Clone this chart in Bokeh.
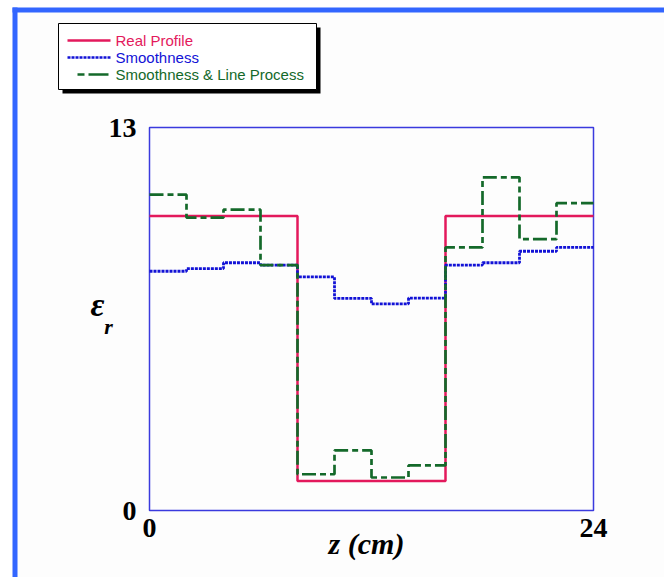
from bokeh.plotting import figure
from bokeh.models import Range1d, FixedTicker, Label, BoxAnnotation
from bokeh.embed import file_html
from bokeh.resources import INLINE

# ---- data ----
x_ticks = [0, 24]
y_ticks = [0, 13]

real_edges = [0, 8, 16, 24]
real_vals = [10, 1, 10]

seg_edges = [0, 2, 4, 6, 8, 10, 12, 14, 16, 18, 20, 22, 24]
smooth_vals = [8.12, 8.21, 8.41, 8.33, 7.93, 7.20, 7.01, 7.21, 8.33, 8.41, 8.80, 8.93]
line_proc_vals = [10.72, 9.94, 10.21, 8.33, 1.23, 2.04, 1.12, 1.53, 8.93, 11.31, 9.21, 10.43]

series_names = ["Real Profile", "Smoothness", "Smoothness & Line Process"]

RED = "#E3195C"
BLUE = "#1212D6"
GREEN = "#14692A"

# ---- layout (canvas pixels) ----
W, H = 664, 577
BOX_L, BOX_R, BOX_T, BOX_B = 149, 593, 127, 510   # where the data box sits on the canvas
SX = (BOX_R - BOX_L) / (x_ticks[-1] - x_ticks[0])
SY = (BOX_B - BOX_T) / (y_ticks[-1] - y_ticks[0])
def dx(px):
    return x_ticks[0] + (px - BOX_L) / SX
def dy(py):
    return y_ticks[0] + (BOX_B - py) / SY

p = figure(width=W, height=H, output_backend="svg", toolbar_location=None,
           x_range=Range1d(dx(0), dx(W)), y_range=Range1d(dy(H), dy(0)),
           min_border=0, min_border_left=0, min_border_right=0,
           min_border_top=0, min_border_bottom=0,
           background_fill_color="#FDFDFD", border_fill_color="#FDFDFD")
p.outline_line_color = None
p.xgrid.visible = False
p.ygrid.visible = False

for ax, t in ((p.xaxis, x_ticks), (p.yaxis, y_ticks)):
    ax.ticker = FixedTicker(ticks=t)
    ax.axis_line_color = None
    ax.major_tick_line_color = None
    ax.minor_tick_line_color = None
    ax.major_label_text_font = "Liberation Serif"
    ax.major_label_text_font_style = "bold"
    ax.major_label_text_font_size = "28px"
    ax.major_label_text_color = "black"
p.xaxis.fixed_location = y_ticks[0]
p.yaxis.fixed_location = x_ticks[0]
p.xaxis.major_label_standoff = 2
p.yaxis.major_label_standoff = 7

# white area above the outer border
p.add_layout(BoxAnnotation(left=dx(-20), right=dx(W + 20), top=dy(-20), bottom=dy(7),
                           fill_color="white", fill_alpha=1, line_color=None, level="underlay"))
p.add_layout(BoxAnnotation(left=dx(-20), right=dx(12), top=dy(-20), bottom=dy(H + 20),
                           fill_color="white", fill_alpha=1, line_color=None, level="underlay"))
# outer blue border (top & left)
p.add_layout(BoxAnnotation(left=dx(12), right=dx(W + 20), top=dy(7), bottom=dy(12),
                           fill_color="#3366FF", fill_alpha=1, line_color=None, level="underlay"))
p.add_layout(BoxAnnotation(left=dx(12), right=dx(17), top=dy(7), bottom=dy(H + 20),
                           fill_color="#3366FF", fill_alpha=1, line_color=None, level="underlay"))

# plot box
p.add_layout(BoxAnnotation(left=x_ticks[0], right=x_ticks[-1], bottom=y_ticks[0], top=y_ticks[-1],
                           fill_alpha=0, line_color="#3A3ADE", line_alpha=1, line_width=1.5,
                           level="underlay"))

# data lines
p.step(x=real_edges, y=real_vals + real_vals[-1:], mode="after",
       line_color=RED, line_width=2.5)
p.step(x=seg_edges, y=smooth_vals + smooth_vals[-1:], mode="after",
       line_color=BLUE, line_width=2.8, line_dash="3 1")
p.step(x=seg_edges, y=line_proc_vals + line_proc_vals[-1:], mode="after",
       line_color=GREEN, line_width=2.7, line_dash="14 4 6 4")

# legend box with shadow
p.add_layout(BoxAnnotation(left=dx(62), right=dx(320), top=dy(27), bottom=dy(93),
                           fill_color="black", fill_alpha=1, line_color=None, level="underlay"))
p.add_layout(BoxAnnotation(left=dx(58), right=dx(316), top=dy(23), bottom=dy(89),
                           fill_color="white", fill_alpha=1, line_color="black", line_alpha=1,
                           line_width=1, level="underlay"))

rows = [40, 57, 74]
colors = [RED, BLUE, GREEN]
dashes = ["solid", "3 1", "7 4 20 4"]
starts = [67, 67, 77]
for name, yy, c, d, s in zip(series_names, rows, colors, dashes, starts):
    p.line(x=[dx(s), dx(110)], y=[dy(yy), dy(yy)], line_color=c, line_width=2.5, line_dash=d)
    p.add_layout(Label(x=dx(115), y=dy(yy), text=name, text_color=c,
                       text_font="Liberation Sans", text_font_size="15px",
                       text_align="left", text_baseline="middle"))

# axis titles
p.add_layout(Label(x=dx(366), y=dy(543), text="z (cm)", text_font="Liberation Serif",
                   text_font_style="bold italic", text_font_size="30px",
                   text_align="center", text_baseline="middle", text_color="black"))
p.add_layout(Label(x=dx(97), y=dy(304), text="\u03b5", text_font="Liberation Serif",
                   text_font_style="bold italic", text_font_size="34px",
                   text_align="center", text_baseline="middle", text_color="black"))
p.add_layout(Label(x=dx(108), y=dy(326), text="r", text_font="Liberation Serif",
                   text_font_style="bold italic", text_font_size="22px",
                   text_align="center", text_baseline="middle", text_color="black"))

open("out.html", "w").write(file_html(p, INLINE))
